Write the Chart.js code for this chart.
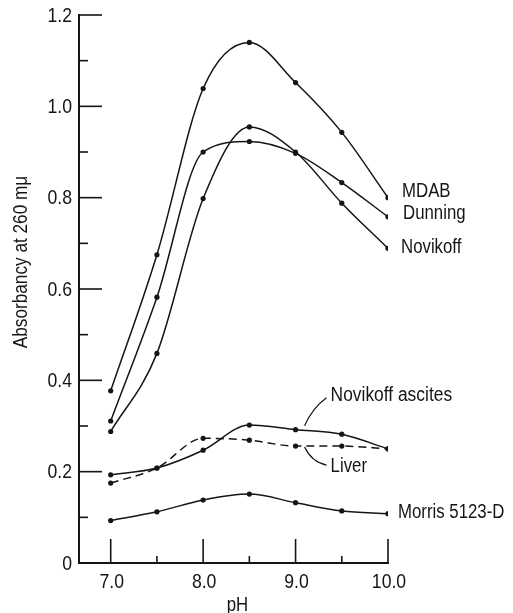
<!DOCTYPE html>
<html>
<head>
<meta charset="utf-8">
<script src="https://cdn.jsdelivr.net/npm/chart.js@4.4.0/dist/chart.umd.min.js"></script>
<style>
  html, body { margin: 0; padding: 0; background: #fff; }
  #wrap { width: 513px; height: 613px; position: relative; }
</style>
</head>
<body>
<div id="wrap"><canvas id="chart"></canvas></div>
<script>
// data (absorbancy at 260 mμ vs pH)
const pH              = [7.0, 7.5, 8.0, 8.5, 9.0, 9.5, 10.0];
const mdab            = [0.377, 0.675, 1.039, 1.140, 1.052, 0.943, 0.800];
const dunning         = [0.311, 0.582, 0.900, 0.923, 0.897, 0.833, 0.758];
const novikoff        = [0.288, 0.459, 0.798, 0.955, 0.900, 0.788, 0.689];
const novikoffAscites = [0.193, 0.208, 0.247, 0.302, 0.292, 0.282, 0.250];
const liver           = [0.175, 0.208, 0.273, 0.269, 0.256, 0.256, 0.250];
const morris          = [0.093, 0.112, 0.138, 0.151, 0.132, 0.114, 0.108];

const xTicks = [7.0, 7.5, 8.0, 8.5, 9.0, 9.5, 10.0];
const xMajor = [7.0, 8.0, 9.0, 10.0];
const yTicks = [0, 0.1, 0.2, 0.3, 0.4, 0.5, 0.6, 0.7, 0.8, 0.9, 1.0, 1.1, 1.2];
const yMajor = [0, 0.2, 0.4, 0.6, 0.8, 1.0, 1.2];

// no narrow font installed, so text is squeezed by hand
const FONT = "'Liberation Sans', Arial, sans-serif";
const INK  = '#151515';

const isIn = (arr, v) => arr.some(a => Math.abs(a - v) < 1e-6);
const pts  = (ys) => ys.map((v, i) => ({ x: pH[i], y: v }));

function series(label, ys, dashed) {
  return {
    label,
    data: pts(ys),
    borderColor: INK,
    backgroundColor: INK,
    borderWidth: 1.5,
    borderDash: dashed ? [8, 5] : [],
    pointRadius: 2.6,
    pointBorderWidth: 0,
    cubicInterpolationMode: 'monotone',
    fill: false,
  };
}

function narrowText(ctx, str, x, y, size, align, squeeze = 0.84) {
  ctx.save();
  ctx.translate(x, y);
  ctx.scale(squeeze, 1);
  ctx.font = size + 'px ' + FONT;
  ctx.textAlign = align;
  ctx.textBaseline = 'middle';
  ctx.fillText(str, 0, 0);
  ctx.restore();
}

// ─── tick marks, tick labels, axis titles and curve labels ───────────────────
const inkPlugin = {
  id: 'ink',
  afterDatasetsDraw(chart) {
    const { ctx, chartArea: area, scales: { x, y } } = chart;
    ctx.save();
    ctx.strokeStyle = INK;
    ctx.fillStyle = INK;
    ctx.lineWidth = 1.6;

    // inward ticks + labels
    yTicks.forEach(v => {
      const py = y.getPixelForValue(v);
      const major = isIn(yMajor, v);
      ctx.beginPath(); ctx.moveTo(area.left, py); ctx.lineTo(area.left + (major ? 23 : 9), py); ctx.stroke();
      if (major) narrowText(ctx, v === 0 ? '0' : v.toFixed(1), area.left - 7, py + 1, 21, 'right');
    });
    xTicks.forEach(v => {
      const px = x.getPixelForValue(v);
      const major = isIn(xMajor, v);
      ctx.beginPath(); ctx.moveTo(px, area.bottom); ctx.lineTo(px, area.bottom - (major ? 24 : 7)); ctx.stroke();
      if (major) narrowText(ctx, v.toFixed(1), px + 1, area.bottom + 19, 21, 'center');
    });

    const end = (ys) => ({ x: x.getPixelForValue(pH[pH.length - 1]), y: y.getPixelForValue(ys[ys.length - 1]) });
    let p = end(mdab);     narrowText(ctx, 'MDAB', p.x + 14, p.y - 6, 20, 'left');
    p = end(dunning);      narrowText(ctx, 'Dunning', p.x + 15, p.y - 3, 20, 'left');
    p = end(novikoff);     narrowText(ctx, 'Novikoff', p.x + 13, p.y - 1, 20, 'left');
    p = end(morris);       narrowText(ctx, 'Morris 5123-D', p.x + 10, p.y - 1, 20, 'left');

    // Novikoff ascites, leader from label to the curve near pH 9
    ctx.lineWidth = 1.2;
    let a = { x: x.getPixelForValue(9.0), y: y.getPixelForValue(novikoffAscites[4]) };
    narrowText(ctx, 'Novikoff ascites', a.x + 35, a.y - 34, 20, 'left', 0.87);
    ctx.beginPath();
    ctx.moveTo(a.x + 31, a.y - 32);
    ctx.quadraticCurveTo(a.x + 17, a.y - 22, a.x + 9, a.y - 4);
    ctx.stroke();

    // Liver
    a = { x: x.getPixelForValue(9.0), y: y.getPixelForValue(liver[4]) };
    narrowText(ctx, 'Liver', a.x + 35, a.y + 20, 20, 'left');
    ctx.beginPath();
    ctx.moveTo(a.x + 31, a.y + 19);
    ctx.quadraticCurveTo(a.x + 16, a.y + 16, a.x + 9, a.y + 1);
    ctx.stroke();

    // axis titles
    narrowText(ctx, 'pH', (area.left + area.right) / 2 + 4, 605, 20, 'center');

    ctx.save();
    ctx.translate(21, 262);
    ctx.rotate(-Math.PI / 2);
    narrowText(ctx, 'Absorbancy at 260 mμ', 0, 0, 20, 'center', 0.86);
    ctx.restore();

    ctx.restore();
  },
};

new Chart(document.getElementById('chart'), {
  type: 'line',
  data: {
    datasets: [
      series('MDAB', mdab),
      series('Dunning', dunning),
      series('Novikoff', novikoff),
      series('Novikoff ascites', novikoffAscites),
      series('Liver', liver, true),
      series('Morris 5123-D', morris),
    ],
  },
  options: {
    responsive: true,
    maintainAspectRatio: false,
    animation: false,
    events: [],
    layout: { padding: { top: 15, right: 125, bottom: 0, left: 0 } },
    plugins: { legend: { display: false }, tooltip: { enabled: false } },
    scales: {
      x: {
        type: 'linear',
        min: 6.657,
        max: 10.0,
        afterBuildTicks: s => { s.ticks = xTicks.map(v => ({ value: v })); },
        afterFit: s => { s.height = 50; },
        grid: { display: false, drawTicks: false },
        border: { display: true, color: INK, width: 2 },
        ticks: { display: false },
      },
      y: {
        type: 'linear',
        min: 0,
        max: 1.2,
        afterBuildTicks: s => { s.ticks = yTicks.map(v => ({ value: v })); },
        afterFit: s => { s.width = 79; },
        grid: { display: false, drawTicks: false },
        border: { display: true, color: INK, width: 2 },
        ticks: { display: false },
      },
    },
  },
  plugins: [inkPlugin],
});
</script>
</body>
</html>
